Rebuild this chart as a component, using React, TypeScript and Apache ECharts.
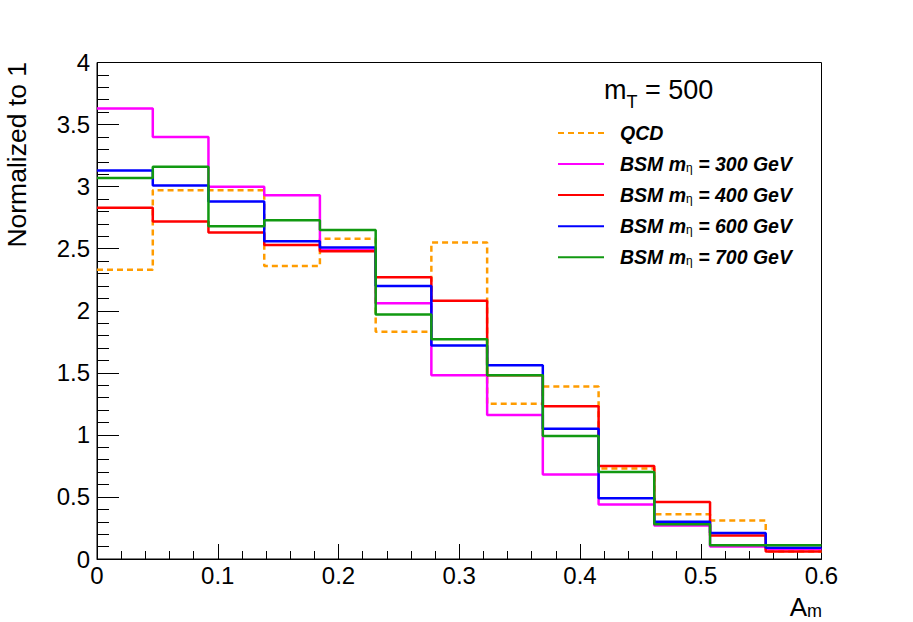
import React, { useEffect, useRef } from "react";
import * as echarts from "echarts";

const binEdges = [0, 0.0462, 0.0923, 0.1385, 0.1846, 0.2308, 0.2769, 0.3231, 0.3692, 0.4154, 0.4615, 0.5077, 0.5538, 0.6];

const seriesNames = ["QCD", "BSM 300", "BSM 400", "BSM 600", "BSM 700"];
const massLabels = ["", "300", "400", "600", "700"];

const qcd = [2.33, 2.97, 2.97, 2.36, 2.58, 1.83, 2.55, 1.25, 1.39, 0.73, 0.36, 0.31, 0.06];
const bsm300 = [3.63, 3.4, 3.0, 2.93, 2.49, 2.06, 1.48, 1.16, 0.68, 0.44, 0.27, 0.1, 0.08];
const bsm400 = [2.83, 2.72, 2.63, 2.53, 2.48, 2.27, 2.08, 1.48, 1.23, 0.75, 0.46, 0.19, 0.06];
const bsm600 = [3.13, 3.01, 2.88, 2.56, 2.51, 2.2, 1.72, 1.56, 1.05, 0.49, 0.3, 0.21, 0.09];
const bsm700 = [3.07, 3.16, 2.68, 2.73, 2.65, 1.97, 1.77, 1.48, 0.99, 0.7, 0.28, 0.11, 0.11];

const allValues = [qcd, bsm300, bsm400, bsm600, bsm700];
const colors = ["#ff9c00", "#ff00ff", "#ff0000", "#0000ff", "#119911"];

const FONT = "'Liberation Sans', Arial, Helvetica, sans-serif";

function stepData(vals: number[]) {
  return binEdges.map((e, i) => [e, vals[Math.min(i, vals.length - 1)]]);
}

export default function App() {
  const ref = useRef<HTMLDivElement>(null);

  useEffect(() => {
    if (!ref.current) return;
    const chart = echarts.init(ref.current, undefined, { renderer: "svg" });

    const series = allValues.map((vals, i) => ({
      name: seriesNames[i],
      type: "line",
      step: "end",
      symbol: "none",
      showSymbol: false,
      data: stepData(vals),
      lineStyle: {
        color: colors[i],
        width: 2.5,
        type: i === 0 ? [6, 4] : "solid",
      },
      itemStyle: { color: colors[i] },
      z: 2 + i,
    }));

    chart.setOption({
      animation: false,
      backgroundColor: "#ffffff",
      textStyle: { fontFamily: FONT },
      grid: {
        left: 97,
        right: 91.5,
        top: 62.5,
        bottom: 63,
        show: true,
        borderColor: "#000",
        borderWidth: 1,
        backgroundColor: "transparent",
      },
      title: {
        text: "{a|m}{s|T}{a| = 500}",
        left: 604,
        top: 73,
        padding: 0,
        textStyle: {
          fontWeight: "normal",
          rich: {
            a: { fontFamily: FONT, fontSize: 27, fontWeight: "normal", color: "#000", lineHeight: 30, verticalAlign: "bottom" },
            s: { fontFamily: FONT, fontSize: 18, fontWeight: "normal", color: "#000", lineHeight: 20, verticalAlign: "bottom", padding: [0, 0, -8, 0] },
          },
        },
      },
      legend: {
        orient: "vertical",
        left: 557,
        top: 123,
        padding: 0,
        itemWidth: 46,
        itemHeight: 20,
        itemGap: 11.05,
        itemStyle: { opacity: 0 },
        data: seriesNames,
        formatter: (name: string) => {
          const i = seriesNames.indexOf(name);
          if (i === 0) return "{b|QCD}";
          return "{b|BSM m}{s|η}{b| = " + massLabels[i] + " GeV}";
        },
        textStyle: {
          padding: [0, 0, 0, 11],
          rich: {
            b: { fontFamily: FONT, fontSize: 19.5, fontWeight: "bold", fontStyle: "italic", color: "#000", lineHeight: 20, verticalAlign: "bottom" },
            s: { fontFamily: FONT, fontSize: 12, color: "#000", lineHeight: 10, verticalAlign: "bottom" },
          },
        },
      },
      xAxis: {
        type: "value",
        min: 0,
        max: 0.6,
        interval: 0.1,
        axisLine: { show: true, onZero: false, lineStyle: { color: "#000", width: 1 } },
        axisTick: { show: true, inside: true, length: 15, lineStyle: { color: "#000" } },
        minorTick: { show: true, splitNumber: 5, length: 8, lineStyle: { color: "#000" } },
        splitLine: { show: false },
        minorSplitLine: { show: false },
        axisLabel: { fontFamily: FONT, fontSize: 24, color: "#000", margin: 4, showMaxLabel: true, showMinLabel: true },
      },
      yAxis: {
        type: "value",
        min: 0,
        max: 4,
        interval: 0.5,
        axisLine: { show: true, onZero: false, lineStyle: { color: "#000", width: 1 } },
        axisTick: { show: true, inside: true, length: 22, lineStyle: { color: "#000" } },
        minorTick: { show: true, splitNumber: 5, length: 12, lineStyle: { color: "#000" } },
        splitLine: { show: false },
        minorSplitLine: { show: false },
        axisLabel: { fontFamily: FONT, fontSize: 24, color: "#000", margin: 7, showMaxLabel: true, showMinLabel: true },
      },
      graphic: [
        {
          type: "text",
          x: 17,
          y: 62,
          rotation: Math.PI / 2,
          style: {
            text: "Normalized to 1",
            font: "26.5px " + FONT,
            fill: "#000",
            align: "right",
            verticalAlign: "middle",
          },
        },
        {
          type: "text",
          x: 822,
          y: 594,
          style: {
            text: "{a|A}{s|m}",
            align: "right",
            verticalAlign: "top",
            rich: {
              a: { fontFamily: FONT, fontSize: 26, fill: "#000", color: "#000", lineHeight: 26, verticalAlign: "bottom" },
              s: { fontFamily: FONT, fontSize: 18, fill: "#000", color: "#000", lineHeight: 12, verticalAlign: "bottom" },
            },
          },
        },
      ],
      series,
    });

    return () => chart.dispose();
  }, []);

  return (
    <div
      ref={ref}
      style={{ position: "fixed", left: 0, top: 0, width: 913, height: 622, background: "#fff" }}
    />
  );
}
